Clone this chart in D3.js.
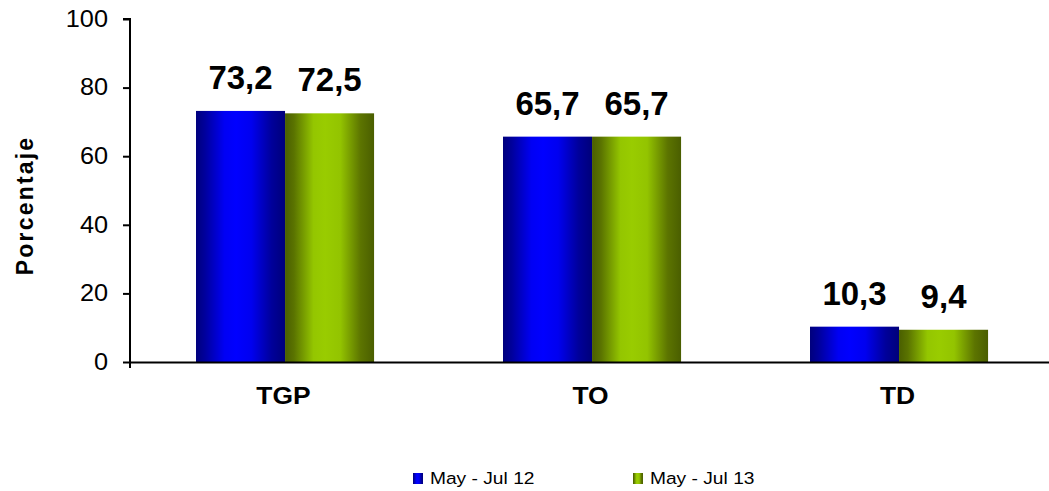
<!DOCTYPE html>
<html>
<head>
<meta charset="utf-8">
<script src="https://cdn.jsdelivr.net/npm/d3@7"></script>
<style>
  body { margin: 0; background: #fff; }
  svg { font-family: Arial, "Liberation Sans", sans-serif; }
</style>
</head>
<body>
<div id="chart"></div>
<script>
const categories = ['TGP', 'TO', 'TD'];
const seriesNames = ['May - Jul 12', 'May - Jul 13'];
const may12 = [73.2, 65.7, 10.3];
const may13 = [72.5, 65.7, 9.4];
const yTicks = [0, 20, 40, 60, 80, 100];

const width = 1049, height = 491;
const margin = { top: 19, right: -2, bottom: 129, left: 130 };

const svg = d3.select('#chart').append('svg')
    .attr('width', width)
    .attr('height', height);

// bar gradients (dark edges, bright middle)
const defs = svg.append('defs');
const grads = [
    { id: 'gBlue', stops: [['0%', '#00007c'], ['10%', '#00009c'], ['32%', '#0000f4'], ['45%', '#0000ff'], ['62%', '#0000f0'], ['85%', '#00009a'], ['100%', '#00007a']] },
    { id: 'gGreen', stops: [['0%', '#4a5f00'], ['10%', '#5a7300'], ['32%', '#94c600'], ['45%', '#99cc00'], ['62%', '#93c400'], ['85%', '#5c7400'], ['100%', '#4a5e00']] }
];
grads.forEach(g => {
    const lg = defs.append('linearGradient').attr('id', g.id)
        .attr('x1', '0%').attr('x2', '100%').attr('y1', '0%').attr('y2', '0%');
    g.stops.forEach(s => lg.append('stop').attr('offset', s[0]).attr('stop-color', s[1]));
});

const innerW = width - margin.left - margin.right;
const innerH = height - margin.top - margin.bottom;

const g = svg.append('g').attr('transform', `translate(${margin.left},${margin.top})`);

const x = d3.scaleBand().domain(categories).range([0, innerW]);
const xs = d3.scaleBand().domain(seriesNames).range([x.bandwidth() * 0.215, x.bandwidth() * 0.795]);
const y = d3.scaleLinear().domain([0, 100]).range([innerH, 0]);

const data = categories.map((c, i) => ({ cat: c, vals: [may12[i], may13[i]] }));
const fills = ['url(#gBlue)', 'url(#gGreen)'];

// bars
const groups = g.selectAll('.grp').data(data).enter().append('g')
    .attr('transform', d => `translate(${x(d.cat)},0)`);

groups.selectAll('rect')
    .data(d => d.vals.map((v, k) => ({ v, k })))
    .enter().append('rect')
    .attr('x', d => xs(seriesNames[d.k]))
    .attr('width', xs.bandwidth())
    .attr('y', d => y(d.v))
    .attr('height', d => innerH - y(d.v))
    .attr('fill', d => fills[d.k]);

groups.selectAll('text.val')
    .data(d => d.vals.map((v, k) => ({ v, k })))
    .enter().append('text')
    .attr('class', 'val')
    .attr('x', d => xs(seriesNames[d.k]) + xs.bandwidth() / 2)
    .attr('y', d => y(d.v) - 22)
    .attr('text-anchor', 'middle')
    .attr('font-size', 33)
    .attr('font-weight', 'bold')
    .text(d => d.v.toFixed(1).replace('.', ','));

// y axis
const yAxis = g.append('g')
    .call(d3.axisLeft(y).tickValues(yTicks).tickSize(7).tickPadding(0));
yAxis.select('.domain').attr('stroke', '#000').attr('stroke-width', 2).attr('d', `M0,${innerH + 6}V0H-7`);
yAxis.selectAll('.tick line').attr('stroke', '#000').attr('stroke-width', 2);
yAxis.selectAll('.tick text')
    .attr('x', 0)
    .attr('font-size', 23).attr('fill', '#000')
    .attr('font-family', 'Arial, "Liberation Sans", sans-serif')
    .attr('transform', 'translate(-22,0) scale(1.1,1)');

// x axis
const xAxis = g.append('g').attr('transform', `translate(0,${innerH})`)
    .call(d3.axisBottom(x).tickSize(0).tickPadding(25));
xAxis.select('.domain').attr('stroke', '#000').attr('stroke-width', 2);
xAxis.selectAll('.tick text').attr('font-size', 24).attr('font-weight', 'bold').attr('fill', '#000')
    .attr('font-family', 'Arial, "Liberation Sans", sans-serif')
    .attr('transform', 'scale(1.1,1)');

// y title
svg.append('text')
    .attr('transform', `translate(33,${margin.top + innerH / 2 + 15}) rotate(-90)`)
    .attr('text-anchor', 'middle')
    .attr('font-size', 23)
    .attr('font-weight', 'bold')
    .attr('letter-spacing', 2.2)
    .text('Porcentaje');

// legend
const legX = [413, 633];
const legend = svg.append('g').selectAll('g').data(seriesNames).enter().append('g')
    .attr('transform', (d, i) => `translate(${legX[i]},473)`);
legend.append('rect').attr('width', 10).attr('height', 11).attr('fill', (d, i) => fills[i]);
legend.append('text').attr('x', 15).attr('y', 11)
    .attr('font-size', 17)
    .attr('transform', 'scale(1.13,1)')
    .text(d => d);
</script>
</body>
</html>
